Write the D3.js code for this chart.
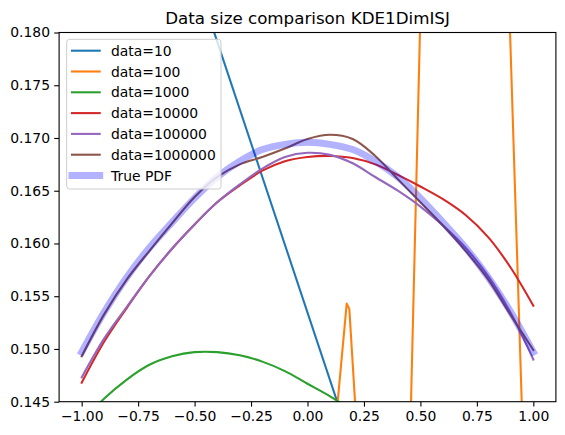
<!DOCTYPE html>
<html>
<head>
<meta charset="utf-8">
<script src="https://cdn.jsdelivr.net/npm/d3@7"></script>
<style>
  body { margin: 0; background: #fff; }
  text { font-family: "DejaVu Sans", sans-serif; fill: #000; }
</style>
</head>
<body>
<div id="chart"></div>
<script>
// shared x grid for the smooth curves
var xs = [-1.0, -0.9, -0.8, -0.7, -0.6, -0.5, -0.4, -0.3, -0.2, -0.1, 0.0,
  0.1, 0.2, 0.3, 0.4, 0.5, 0.6, 0.7, 0.8, 0.9, 1.0]

// data=10 and data=100 are jagged, so they keep their own x values
var x10 = [-1.0, 1.0]
var y10 = [0.2177, 0.0892]
var x100 = [-1.0, 0.12, 0.1736, 0.1852, 0.22, 0.44, 0.52, 0.88, 0.96, 1.0]
var y100 = [0.110, 0.1418, 0.1543, 0.1538, 0.1417, 0.1287, 0.1995, 0.1915, 0.1373, 0.120]

var y1000 = [0.1430, 0.1453, 0.1471, 0.1485, 0.1493, 0.1497, 0.1497, 0.1494, 0.1488, 0.1479, 0.1467,
  0.1455, 0.1441, 0.1425, 0.1407, 0.1388, 0.1367, 0.1345, 0.1321, 0.1296, 0.1270]
var y10000 = [0.1468, 0.1507, 0.1539, 0.1569, 0.1595, 0.1618, 0.1639, 0.1655, 0.1669, 0.1678, 0.1682,
  0.1683, 0.1681, 0.1675, 0.1665, 0.1654, 0.1642, 0.1627, 0.1606, 0.1577, 0.1541]
var y100000 = [0.1473, 0.1510, 0.1540, 0.1569, 0.1595, 0.1618, 0.1639, 0.1656, 0.1671, 0.1682, 0.1686,
  0.1684, 0.1676, 0.1663, 0.1650, 0.1635, 0.1617, 0.1596, 0.1569, 0.1534, 0.1490]
var y1000000 = [0.1493, 0.1533, 0.1566, 0.1593, 0.1619, 0.1644, 0.1663, 0.1675, 0.1682, 0.1690, 0.1699,
  0.1703, 0.1699, 0.1683, 0.1661, 0.1639, 0.1617, 0.1593, 0.1566, 0.1532, 0.1499]
var yTrue = [0.1497, 0.1535, 0.1568, 0.1596, 0.1620, 0.1643, 0.1663, 0.1678, 0.1689, 0.1694, 0.1696,
  0.1694, 0.1689, 0.1678, 0.1663, 0.1643, 0.1620, 0.1596, 0.1568, 0.1535, 0.1497]

var labels = ['data=10', 'data=100', 'data=1000', 'data=10000', 'data=100000', 'data=1000000', 'True PDF']
var colors = ['#1f77b4', '#ff7f0e', '#2ca02c', '#d62728', '#9467bd', '#8c564b', '#0000ff']
var xTicks = [-1.0, -0.75, -0.5, -0.25, 0.0, 0.25, 0.5, 0.75, 1.0]
var yTicks = [0.145, 0.150, 0.155, 0.160, 0.165, 0.170, 0.175, 0.180]

var W = 565
var H = 435
var margin = { top: 32.5, left: 59.1, right: 9.1, bottom: 33.3 }
var width = W - margin.left - margin.right
var height = H - margin.top - margin.bottom

var thin = 1.5 * 100 / 72
var thick = 5 * 100 / 72

var svg = d3
  .select('#chart')
  .append('svg')
  .attr('width', W)
  .attr('height', H)

var x = d3.scaleLinear().domain([-1.1, 1.1]).range([0, width])
var y = d3.scaleLinear().domain([0.145, 0.18]).range([height, 0])

svg.append('defs')
  .append('clipPath')
  .attr('id', 'clip')
  .append('rect')
  .attr('width', width)
  .attr('height', height)

var g = svg.append('g')
  .attr('transform', `translate(${margin.left},${margin.top})`)

// series: [xvalues, yvalues, curve]
var series = [
  [x10, y10, d3.curveLinear],
  [x100, y100, d3.curveLinear],
  [xs, y1000, d3.curveCatmullRom],
  [xs, y10000, d3.curveCatmullRom],
  [xs, y100000, d3.curveCatmullRom],
  [xs, y1000000, d3.curveCatmullRom],
  [xs, yTrue, d3.curveCatmullRom]
]

var plot = g.append('g').attr('clip-path', 'url(#clip)')

series.forEach((s, i) => {
  var pts = s[0].map((v, j) => [v, s[1][j]])
  var line = d3.line()
    .x(d => x(d[0]))
    .y(d => y(d[1]))
    .curve(s[2])
  plot.append('path')
    .datum(pts)
    .attr('d', line)
    .attr('fill', 'none')
    .attr('stroke', colors[i])
    .attr('stroke-width', i === 6 ? thick : thin)
    .attr('stroke-opacity', i === 6 ? 0.3 : 1)
    .attr('stroke-linecap', 'square')
    .attr('stroke-linejoin', 'round')
})

// axes
var fmt = d3.format('.2f')
var fmtY = d3.format('.3f')
var xAxis = g.append('g')
  .attr('transform', `translate(0,${height})`)
  .call(d3.axisBottom(x).tickValues(xTicks).tickFormat(fmt).tickSize(4.9).tickPadding(4.2))
var yAxis = g.append('g')
  .call(d3.axisLeft(y).tickValues(yTicks).tickFormat(fmtY).tickSize(4.9).tickPadding(4.2))

;[xAxis, yAxis].forEach(a => {
  a.select('.domain').remove()
  a.selectAll('line').attr('stroke', '#000').attr('stroke-width', 1.1)
  a.selectAll('text')
    .style('font-family', '"DejaVu Sans", sans-serif')
    .style('font-size', '13.9px')
    .attr('fill', '#000')
})

g.append('rect')
  .attr('width', width)
  .attr('height', height)
  .attr('fill', 'none')
  .attr('stroke', '#000')
  .attr('stroke-width', 1.1)

// title
svg.append('text')
  .attr('x', margin.left + width / 2)
  .attr('y', 24)
  .attr('text-anchor', 'middle')
  .style('font-size', '16.7px')
  .text('Data size comparison KDE1DimISJ')

// legend
var lg = svg.append('g').attr('transform', 'translate(66.7,39.3)')
lg.append('rect')
  .attr('width', 154.3)
  .attr('height', 149.7)
  .attr('rx', 2.8)
  .attr('fill', '#fff')
  .attr('fill-opacity', 0.8)
  .attr('stroke', '#cccccc')
  .attr('stroke-width', 1)

var rows = lg.selectAll('g.row')
  .data(labels)
  .enter()
  .append('g')
  .attr('class', 'row')
  .attr('transform', (d, i) => `translate(0,${11.4 + i * 20.8})`)

rows.append('line')
  .attr('x1', 5.3)
  .attr('x2', 33)
  .attr('stroke', (d, i) => colors[i])
  .attr('stroke-opacity', (d, i) => i === 6 ? 0.3 : 1)
  .attr('stroke-width', (d, i) => i === 6 ? thick : thin)
  .attr('stroke-linecap', 'square')

rows.append('text')
  .attr('x', 44.3)
  .attr('y', 5)
  .style('font-size', '13.9px')
  .text(d => d)
</script>
</body>
</html>
